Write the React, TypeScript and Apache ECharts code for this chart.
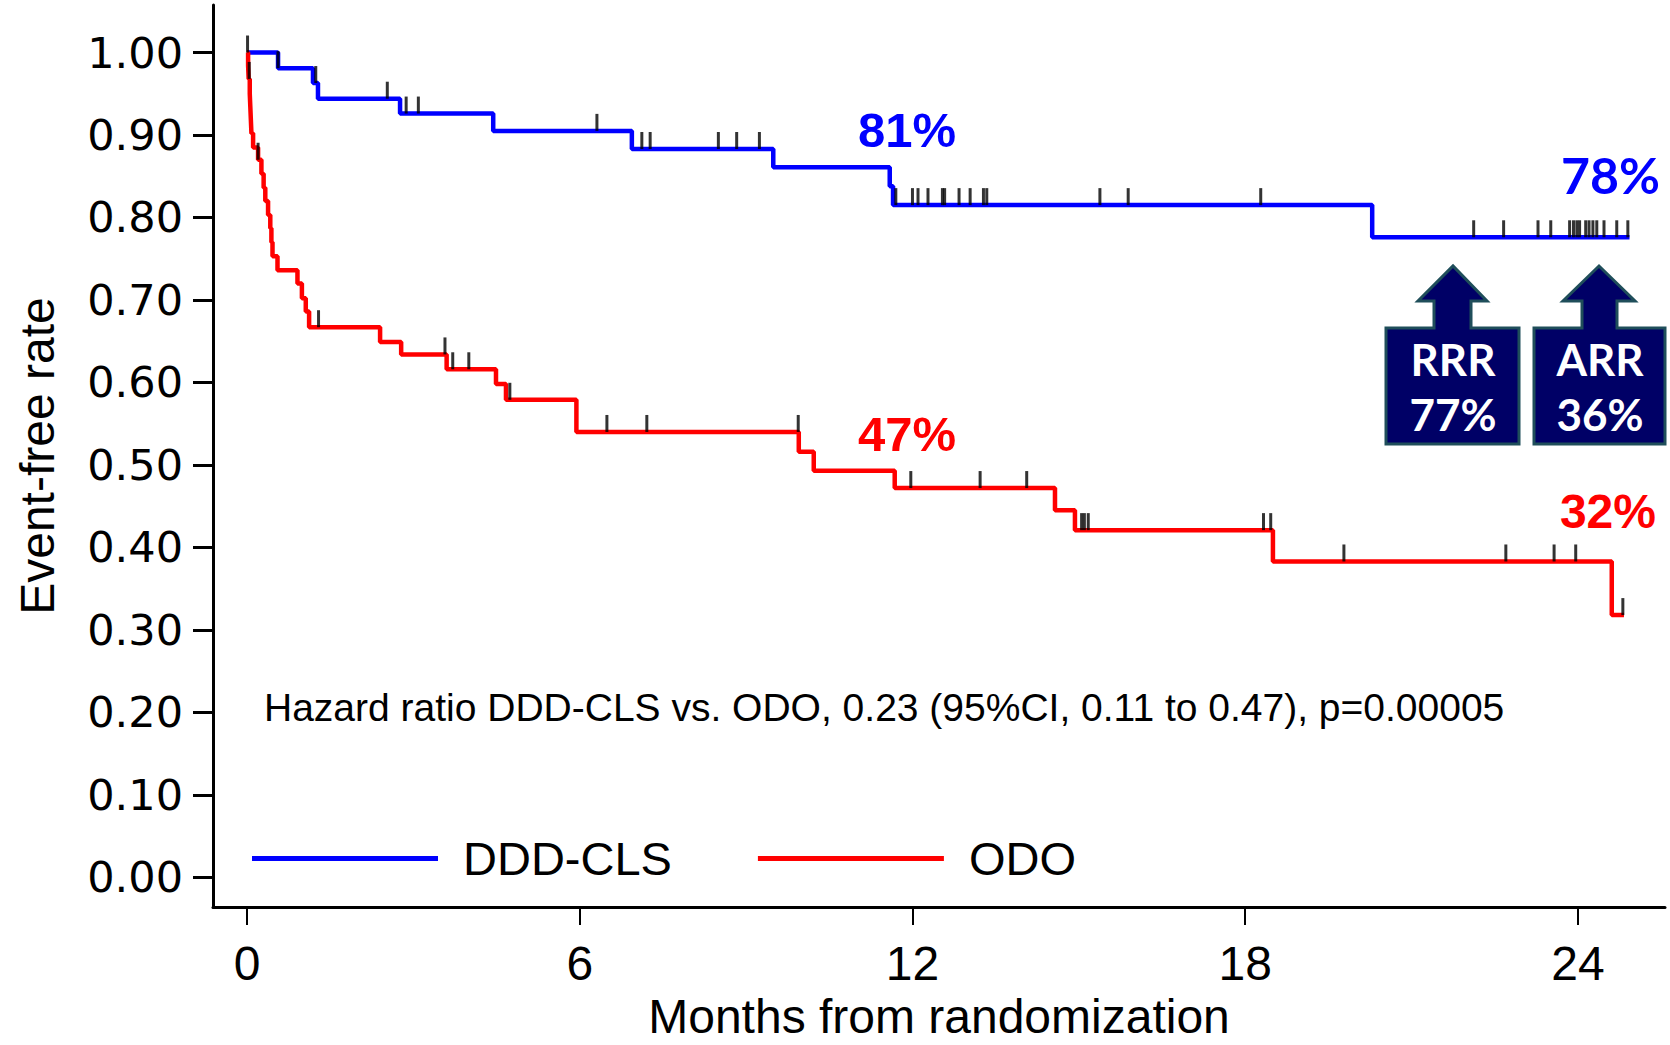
import React, { useEffect, useRef } from "react";
import * as echarts from "echarts";

// Axis ticks
const xTicks = [0, 6, 12, 18, 24];
const yTicks = [0, 0.1, 0.2, 0.3, 0.4, 0.5, 0.6, 0.7, 0.8, 0.9, 1.0];

// Kaplan-Meier steps [month, event-free rate]
const dddSteps: [number, number][] = [
  [0, 1.0], [0.56, 0.981], [1.19, 0.963], [1.28, 0.944], [2.76, 0.926],
  [4.44, 0.905], [6.94, 0.883], [9.49, 0.861], [11.59, 0.838], [11.65, 0.815],
  [20.29, 0.776], [24.93, 0.776],
];
const odoSteps: [number, number][] = [
  [0, 1.0], [0.02, 0.984], [0.03, 0.968], [0.05, 0.95], [0.06, 0.934], [0.07, 0.918],
  [0.08, 0.902], [0.11, 0.885], [0.2, 0.87], [0.26, 0.853], [0.3, 0.836], [0.33, 0.82],
  [0.38, 0.803], [0.42, 0.787], [0.44, 0.77], [0.46, 0.753], [0.55, 0.736], [0.91, 0.72],
  [0.99, 0.702], [1.06, 0.686], [1.12, 0.667], [2.4, 0.649], [2.78, 0.634], [3.6, 0.616],
  [4.49, 0.598], [4.67, 0.579], [5.94, 0.54], [9.95, 0.516], [10.22, 0.493], [11.68, 0.472],
  [14.57, 0.445], [14.93, 0.421], [18.5, 0.383], [24.61, 0.318], [24.83, 0.318],
];

// Censoring times (months)
const dddCensor = [
  0.01, 0.56, 1.24, 2.53, 2.87, 3.09, 6.31, 7.12, 7.27, 8.5, 8.83, 9.24,
  11.7, 12.0, 12.1, 12.28, 12.54, 12.58, 12.84, 13.04, 13.28, 13.34, 15.38, 15.89, 18.28,
  22.12, 22.66, 23.28, 23.51, 23.85, 23.92, 23.98, 24.03, 24.14, 24.2, 24.27, 24.34,
  24.47, 24.7, 24.9,
];
const odoCensor = [
  0.04, 0.2, 1.29, 3.57, 3.71, 4.0, 4.74, 6.49, 7.21, 9.94, 11.97, 13.22, 14.06,
  15.05, 15.1, 15.17, 18.33, 18.46, 19.78, 22.7, 23.57, 23.96, 24.81,
];

const seriesNames = ["DDD-CLS", "ODO"];
const hazardText = "Hazard ratio DDD-CLS vs. ODO, 0.23 (95%CI, 0.11 to 0.47), p=0.00005";

function levelAt(steps: [number, number][], t: number): number {
  let v = steps[0][1];
  for (const [st, sv] of steps) {
    if (st <= t + 1e-9) v = sv;
    else break;
  }
  return v;
}

const SANS = "Liberation Sans, Arial, sans-serif";
const BLUE = "#0000FF";
const RED = "#FF0000";
const NAVY = "#000066";
const EDGE = "#1F4E5A";

export default function App() {
  const ref = useRef<HTMLDivElement>(null);
  useEffect(() => {
    if (!ref.current) return;
    const chart = echarts.init(ref.current, null, { renderer: "svg" });
    const arrowBox = (x0: number, x1: number, sx0: number, sx1: number, hx0: number, hx1: number, ax: number) => ({
      type: "polygon",
      shape: {
        points: [
          [x0, 444], [x0, 328], [sx0, 328], [sx0, 301], [hx0, 301], [ax, 266],
          [hx1, 301], [sx1, 301], [sx1, 328], [x1, 328], [x1, 444],
        ],
      },
      style: { fill: NAVY, stroke: EDGE, lineWidth: 3 },
      z: 10,
    });
    const boxText = (text: string, x: number, y: number) => ({
      type: "text",
      x, y, z: 11,
      style: {
        text, fill: "#FFFFFF", font: "bold 44px Lato, sans-serif",
        textAlign: "center", textVerticalAlign: "middle",
      },
    });
    const pctText = (text: string, x: number, y: number, color: string, align: string, font: string) => ({
      type: "text",
      x, y, z: 11,
      style: { text, fill: color, font, textAlign: align, textVerticalAlign: "middle" },
    });

    chart.setOption({
      animation: false,
      backgroundColor: "#FFFFFF",
      grid: { left: 213, top: 5, width: 1452, height: 911, containLabel: false },
      legend: {
        data: seriesNames,
        left: 247,
        top: 830,
        icon: "rect",
        itemWidth: 186,
        itemHeight: 5,
        itemGap: 86,
        textStyle: { fontSize: 47, fontFamily: SANS, color: "#000", padding: [0, 0, 0, 20] },
      },
      xAxis: {
        type: "value",
        min: -0.613,
        max: 25.57,
        axisLine: { show: true, onZero: false, lineStyle: { color: "#000", width: 3 } },
        axisTick: { show: true, length: 18, customValues: xTicks, lineStyle: { color: "#000", width: 2 } },
        axisLabel: {
          customValues: xTicks, margin: 32, fontSize: 48, fontFamily: SANS, color: "#000",
          formatter: (v: number) => String(v),
        },
        splitLine: { show: false },
        name: "Months from randomization",
        nameLocation: "middle",
        nameGap: 82,
        nameTextStyle: { fontSize: 48, fontFamily: SANS, color: "#000" },
      },
      yAxis: {
        type: "value",
        min: -0.036,
        max: 1.0576,
        axisLine: { show: true, onZero: false, lineStyle: { color: "#000", width: 3 } },
        axisTick: { show: true, length: 20, customValues: yTicks, lineStyle: { color: "#000", width: 3 } },
        axisLabel: {
          customValues: yTicks, margin: 30, fontSize: 43, fontFamily: "DejaVu Sans", color: "#000",
          formatter: (v: number) => v.toFixed(2),
        },
        splitLine: { show: false },
        name: "Event-free rate",
        nameLocation: "middle",
        nameGap: 152,
        nameTextStyle: { fontSize: 48, fontFamily: SANS, color: "#000" },
      },
      series: [
        {
          name: seriesNames[0], type: "line", step: "end", data: dddSteps,
          symbol: "none", color: BLUE, lineStyle: { color: BLUE, width: 4.5 }, z: 2,
        },
        {
          name: seriesNames[1], type: "line", step: "end", data: odoSteps,
          symbol: "none", color: RED, lineStyle: { color: RED, width: 4.5 }, z: 2,
        },
        {
          name: "censor-ddd", type: "scatter", silent: true,
          data: dddCensor.map((t) => [t, levelAt(dddSteps, t)]),
          symbol: "rect", symbolSize: [3, 17], symbolOffset: [0, -8.5],
          itemStyle: { color: "#000" }, z: 3,
        },
        {
          name: "censor-odo", type: "scatter", silent: true,
          data: odoCensor.map((t) => [t, levelAt(odoSteps, t)]),
          symbol: "rect", symbolSize: [3, 17], symbolOffset: [0, -8.5],
          itemStyle: { color: "#000" }, z: 3,
        },
      ],
      graphic: [
        {
          type: "text", x: 264, y: 707, z: 11,
          style: { text: hazardText, fill: "#000", font: `39px ${SANS}`, textVerticalAlign: "middle" },
        },
        pctText("81%", 858, 130, BLUE, "left", `bold 49px ${SANS}`),
        pctText("47%", 858, 434, RED, "left", `bold 49px ${SANS}`),
        pctText("78%", 1660, 175, BLUE, "right", "bold 50px Lato, sans-serif"),
        pctText("32%", 1656, 511, RED, "right", `bold 48px ${SANS}`),
        arrowBox(1386, 1519, 1434, 1471, 1418, 1487, 1453),
        arrowBox(1534, 1665, 1582, 1617, 1563, 1635, 1599),
        boxText("RRR", 1453, 359),
        boxText("77%", 1453, 414),
        boxText("ARR", 1600, 359),
        boxText("36%", 1600, 414),
      ],
    });
    return () => chart.dispose();
  }, []);
  return (
    <div
      ref={ref}
      style={{ position: "fixed", left: 0, top: 0, width: 1670, height: 1045, background: "#fff" }}
    />
  );
}
